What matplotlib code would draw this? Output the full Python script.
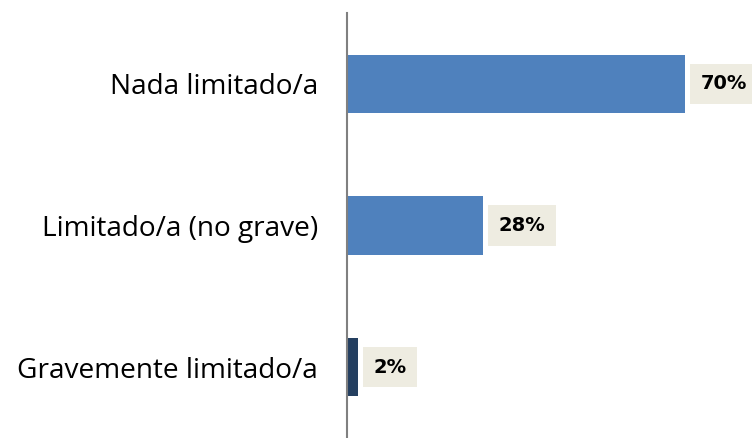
import matplotlib.pyplot as plt

categories = ["Nada limitado/a", "Limitado/a (no grave)", "Gravemente limitado/a"]
values = [70, 28, 2]
labels = ["70%", "28%", "2%"]
colors = ["#4F81BD", "#4F81BD", "#243F60"]

plt.rcParams['font.family'] = ['Open Sans', 'DejaVu Sans']

fig = plt.figure(figsize=(7.52, 4.38), dpi=100)
ax = fig.add_axes([347 / 752, 0, 385 / 752, 425 / 438])

y = range(len(categories))
ax.barh(y, values, height=0.41, color=colors, left=0.3)
ax.set_xlim(0, 80)
ax.set_ylim(2.5, -0.5)

for i, (v, lab) in enumerate(zip(values, labels)):
    ax.annotate(lab, xy=(v + 0.3, i), xytext=(11, 0), textcoords="offset points",
                ha="left", va="center", fontsize=14, fontweight="bold",
                family=["DejaVu Sans"],
                bbox=dict(boxstyle="square,pad=0.55", fc="#EEECE1", ec="none"),
                annotation_clip=False)

ax.set_yticks(list(y))
ax.set_yticklabels(categories, fontsize=20.2)
ax.tick_params(axis="y", length=0, pad=21)
ax.set_xticks([])
for s in ["top", "right", "bottom"]:
    ax.spines[s].set_visible(False)
ax.spines["left"].set_color("#808080")
ax.spines["left"].set_linewidth(1.5)

fig.savefig("out.png", dpi=100)
